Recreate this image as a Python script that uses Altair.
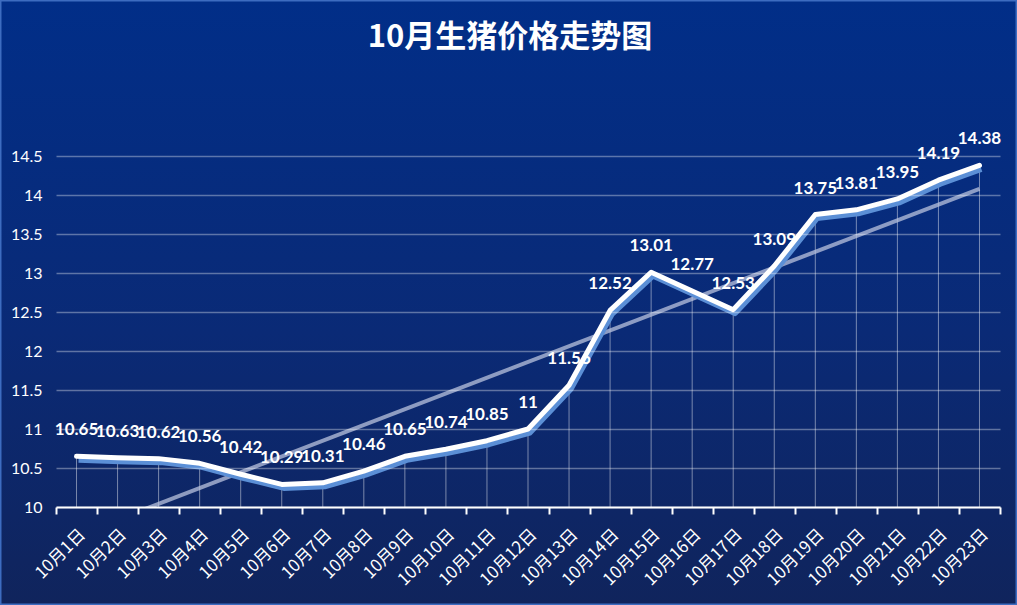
import altair as alt
import pandas as pd

dates = [f"10月{i}日" for i in range(1, 24)]
prices = [10.65, 10.63, 10.62, 10.56, 10.42, 10.29, 10.31, 10.46, 10.65, 10.74,
          10.85, 11.0, 11.56, 12.52, 13.01, 12.77, 12.53, 13.09, 13.75, 13.81,
          13.95, 14.19, 14.38]
price_labels = ["10.65", "10.63", "10.62", "10.56", "10.42", "10.29", "10.31", "10.46",
                "10.65", "10.74", "10.85", "11", "11.56", "12.52", "13.01", "12.77",
                "12.53", "13.09", "13.75", "13.81", "13.95", "14.19", "14.38"]
y_ticks = [10, 10.5, 11, 11.5, 12, 12.5, 13, 13.5, 14, 14.5]
title_text = "10月生猪价格走势图"

df = pd.DataFrame({"date": dates, "price": prices, "label": price_labels,
                   "idx": list(range(len(dates)))})

W, H = 944, 351
PL, PT, PR, PB = 56, 156, 17, 98

x_scale = alt.Scale(type="band", domain=dates, paddingInner=0, paddingOuter=0)
y_scale = alt.Scale(domain=[10, 14.5], nice=False, zero=False)

x_enc = alt.X("date:N", scale=x_scale, sort=None, title=None,
              axis=alt.Axis(tickBand="extent", domainColor="white", domainWidth=2,
                            tickColor="white", tickWidth=2, tickSize=7,
                            labelAngle=-45, labelFontSize=17, labelColor="white",
                            labelFont="Noto Sans CJK SC", labelPadding=12,
                            grid=False, zindex=1))
y_enc = alt.Y("price:Q", scale=y_scale, title=None,
              axis=alt.Axis(values=y_ticks, format="~g", grid=True,
                            gridColor="#ffffff", gridOpacity=0.35, gridWidth=1.5,
                            domain=False, ticks=False, labelPadding=14,
                            labelFontSize=16, labelColor="white",
                            labelFont="Lato", zindex=1))

bg = alt.Chart(alt.Data(values=[{"k": 1}])).mark_rect(
    fill=alt.Gradient(gradient="linear", x1=0, y1=0, x2=0, y2=1,
                      stops=[alt.GradientStop(color="#012e88", offset=0),
                             alt.GradientStop(color="#0a2a76", offset=0.55),
                             alt.GradientStop(color="#10245c", offset=1)]),
    stroke="#3d6cc0", strokeWidth=3
).encode(x=alt.value(-PL), x2=alt.value(W + PR), y=alt.value(-PT), y2=alt.value(H + PB))

base = alt.Chart(df)

drops = base.mark_rule(color="white", strokeOpacity=0.45, strokeWidth=1).encode(
    x=x_enc, y=y_enc, y2=alt.datum(10))

trend = base.transform_regression("idx", "price").transform_calculate(
    date="'10月' + (datum.idx + 1) + '日'"
).mark_line(color="#b9c3dd", strokeOpacity=0.75, strokeWidth=4, clip=True).encode(
    x=x_enc, y=y_enc)

shadow = base.mark_line(color="#5b8fd6", strokeWidth=5, xOffset=2, yOffset=4,
                        strokeJoin="round").encode(x=x_enc, y=y_enc)

line = base.mark_line(color="white", strokeWidth=5, strokeCap="round",
                      strokeJoin="round").encode(x=x_enc, y=y_enc)

labels = base.mark_text(color="white", fontSize=17, fontWeight="bold", font="Lato",
                        dy=-26, baseline="middle").encode(
    x=x_enc, y=y_enc, text="label:N")

title = alt.Chart(alt.Data(values=[{"t": title_text}])).mark_text(
    color="white", fontSize=31, fontWeight="bold", font="Noto Sans CJK SC",
    align="center", baseline="middle"
).encode(x=alt.value(510 - PL), y=alt.value(38 - PT), text="t:N")

chart = alt.layer(bg, drops, trend, shadow, line, labels, title).properties(
    width=W, height=H,
    autosize=alt.AutoSizeParams(type="none"),
    padding={"left": PL, "top": PT, "right": PR, "bottom": PB},
    background="#0a2a76"
).configure_view(stroke=None)

chart.save("out.html", embed_options={"renderer": "svg", "actions": False})
